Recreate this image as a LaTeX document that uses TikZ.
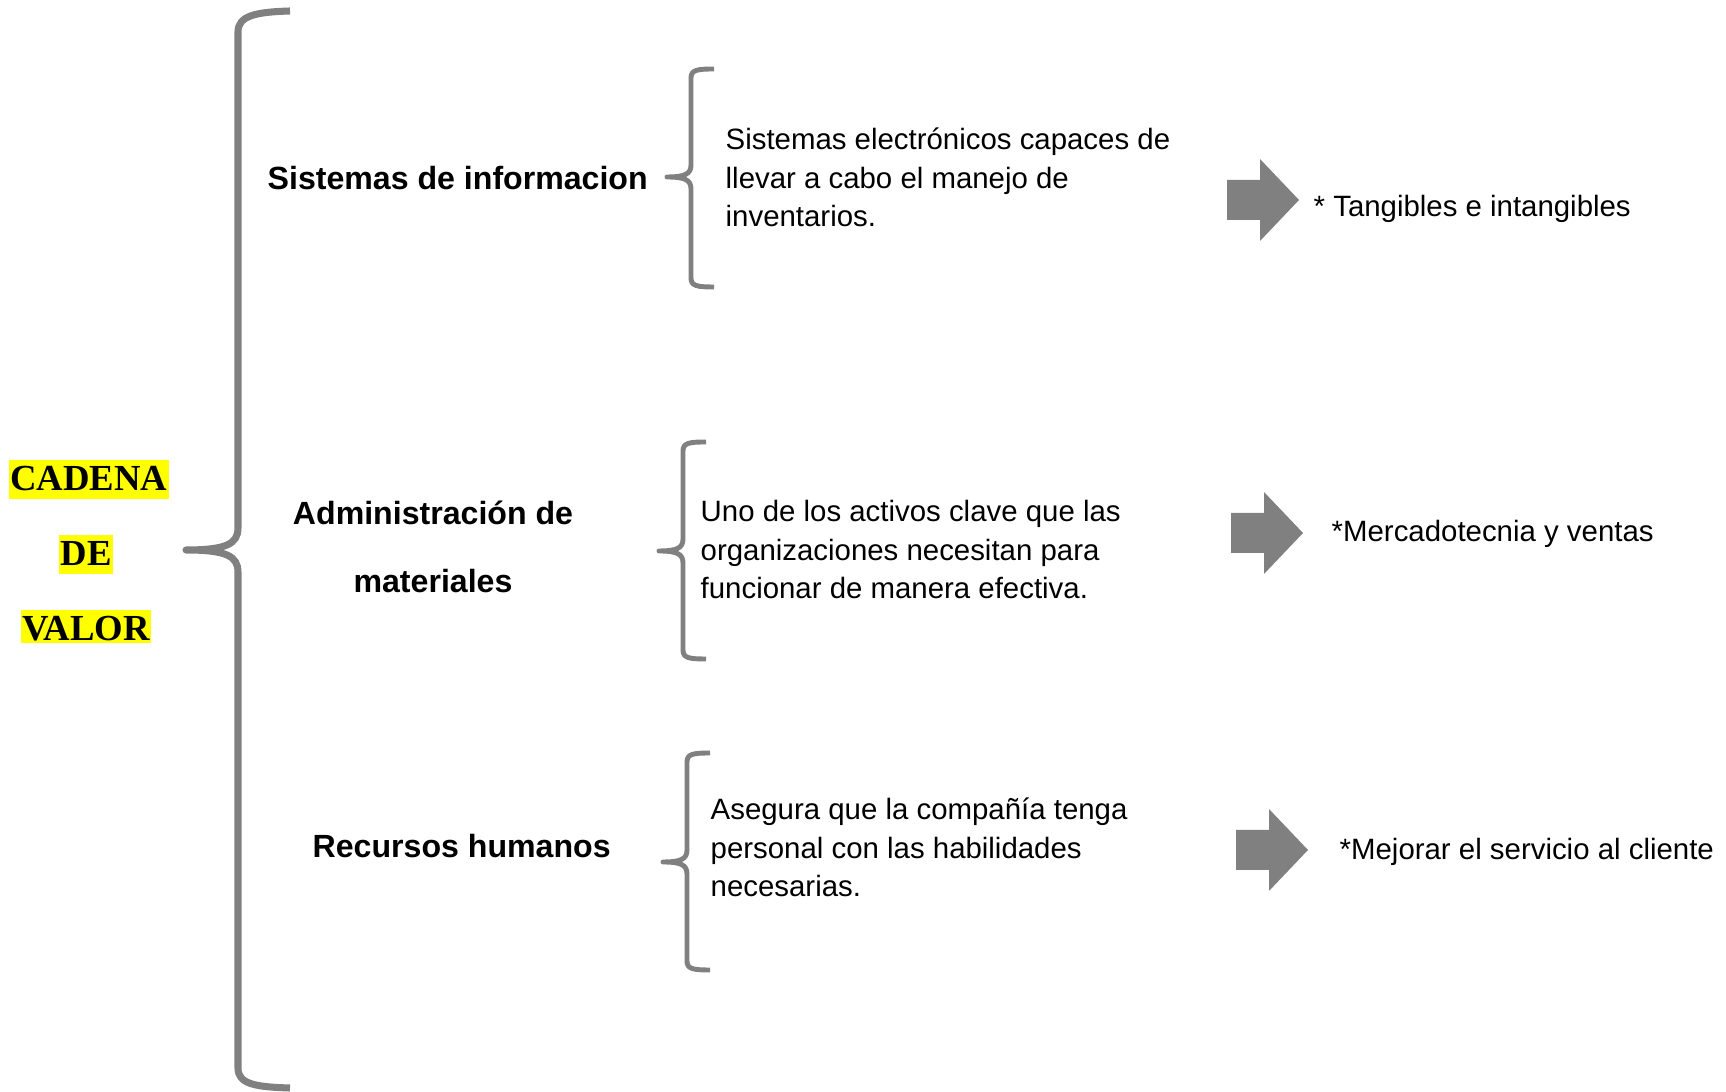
\documentclass[tikz,border=0pt]{standalone}
\usepackage{fontspec}
\setmainfont{Liberation Sans}
\newfontfamily\serifbold{Liberation Serif}
\usepackage{tikz}
\usetikzlibrary{positioning}
\definecolor{bracegray}{RGB}{128,128,128}
\definecolor{marker}{RGB}{255,255,0}

\begin{document}
\begin{tikzpicture}[x=0.01cm, y=-0.01cm,
  brace/.style={draw=bracegray, line width=2pt, line join=round},
  smallbrace/.style={draw=bracegray, line width=1.4pt, line join=round},
  highlight/.style={fill=marker, inner xsep=0.4pt, inner ysep=0pt, text height=0.891em, text depth=0.216em, anchor=base, font=\serifbold\bfseries\fontsize{10.44}{12}\selectfont},
  heading/.style={inner sep=0pt, font=\bfseries\fontsize{9.13}{19.35}\selectfont},
  desc/.style={inner sep=0pt, align=left, anchor=base west, font=\fontsize{8.36}{11}\selectfont},
  result/.style={inner sep=0pt, anchor=base west, font=\fontsize{8.36}{11}\selectfont}]

\useasboundingbox (0,0) rectangle (1726,1092);

% big brace
\draw[brace] (290,11) .. controls (255,12) and (238,16) .. (238,32) -- (238,528) .. controls (238,544) and (226,550) .. (186,550) .. controls (226,550) and (238,556) .. (238,572) -- (238,1068) .. controls (238,1084) and (255,1087) .. (290,1088);

\node[highlight] (cadena) at (89,491) {CADENA};
\node[highlight] (de) at (86,566) {DE};
\node[highlight, text depth=0.06em] (valor) at (86,641) {VALOR};

% headings (multi-line nodes sit on their last baseline)
\node[heading, anchor=base west] (sisinfo) at (267,190) {Sistemas de informacion};
\node[heading, align=center, anchor=base] (admmat) at (433,593) {Administración de\\materiales};
\node[heading, anchor=base west] (rechum) at (312,858) {Recursos humanos};

% small braces
\foreach \bx/\bt/\bm/\bb in {691/69/177/287, 683/442/551/659, 687/753/862/970}
  \draw[smallbrace] (\bx+23,\bt) .. controls (\bx+6,\bt) and (\bx,\bt+1) .. (\bx,\bt+9) -- (\bx,\bm-12) .. controls (\bx,\bm-3) and (\bx-6,\bm) .. (\bx-24,\bm) .. controls (\bx-6,\bm) and (\bx,\bm+3) .. (\bx,\bm+12) -- (\bx,\bb-9) .. controls (\bx,\bb-1) and (\bx+6,\bb) .. (\bx+23,\bb);

\node[desc] (descinfo) at (725,227) {Sistemas electrónicos capaces de\\llevar a cabo el manejo de\\inventarios.};
\node[desc] (descmat) at (700,599) {Uno de los activos clave que las\\organizaciones necesitan para\\funcionar de manera efectiva.};
\node[desc] (deschum) at (710,897) {Asegura que la compañía tenga\\personal con las habilidades\\necesarias.};

% block arrows
\foreach \ax/\ay in {1227/200, 1231/533, 1236/850}
  \fill[bracegray] (\ax,\ay-20) -- (\ax+33,\ay-20) -- (\ax+33,\ay-41) -- (\ax+72,\ay) -- (\ax+33,\ay+41) -- (\ax+33,\ay+20) -- (\ax,\ay+20) -- cycle;

\node[result] (resinfo) at (1313,217) {* Tangibles e intangibles};
\node[result] (resmat) at (1331,542) {*Mercadotecnia y ventas};
\node[result] (reshum) at (1339,860) {*Mejorar el servicio al cliente};

\end{tikzpicture}
\end{document}
